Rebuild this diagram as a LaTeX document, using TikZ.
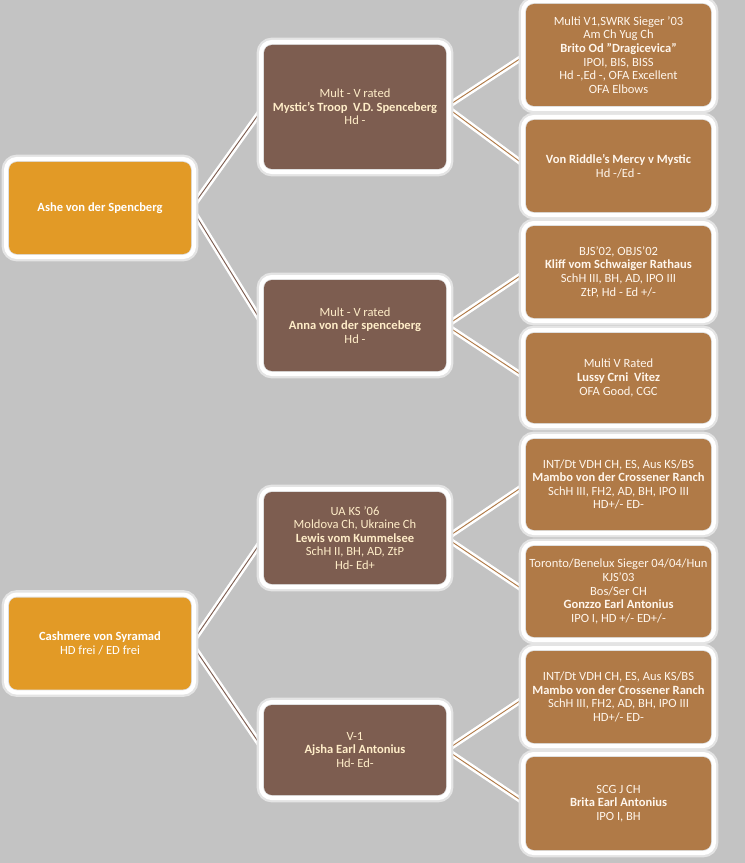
\documentclass[tikz,border=0pt]{standalone}
\usepackage{fontspec}
\setmainfont{Carlito}
\usetikzlibrary{backgrounds}
\definecolor{bgGray}{HTML}{C3C3C3}
\definecolor{rootOrange}{HTML}{E29A26}
\definecolor{sireBrown}{HTML}{7D5D50}
\definecolor{grandTan}{HTML}{B07A47}
\definecolor{creamText}{HTML}{FFEDC8}
\definecolor{paleText}{HTML}{FFF6EC}
\tikzset{
  box/.style={rounded corners=6pt, align=center, inner sep=1pt,
    font=\fontsize{9.4}{10.2}\selectfont,
    preaction={draw=bgGray!45!white, line width=11pt},
    preaction={draw=white, line width=7.5pt},
    preaction={draw=black!12, line width=1.2pt}},
  root/.style={box, fill=rootOrange, text=white,
    minimum width=136.5pt, minimum height=69pt},
  sire/.style={box, fill=sireBrown, text=creamText,
    minimum width=136.5pt},
  grand/.style={box, fill=grandTan, text=paleText,
    minimum width=138.75pt},
  branch/.style={draw=#1, line width=0.7pt,
    preaction={draw=white, line width=4.5pt}}
}
\begin{document}
\begin{tikzpicture}[x=0.75pt,y=-0.75pt]
    %frame
    \useasboundingbox (0,0) rectangle (745,863);
    %first generation
    \node[root] (ashe) at (100,208) {\textbf{Ashe von der Spencberg}};
    \node[root] (cash) at (100,643.5) {\textbf{Cashmere von Syramad}\\HD frei / ED frei};
    %second generation
    \node[sire, minimum height=93pt] (mystic) at (355,107)
      {Mult - V rated\\\textbf{Mystic's Troop~ V.D. Spenceberg}\\Hd -};
    \node[sire, minimum height=68.25pt] (anna) at (355,325.5)
      {Mult - V rated\\\textbf{Anna von der spenceberg}\\Hd -};
    \node[sire, minimum height=69pt] (lewis) at (355,538)
      {UA KS '06\\Moldova Ch, Ukraine Ch\\\textbf{Lewis vom Kummelsee}\\SchH II, BH, AD, ZtP\\Hd- Ed+};
    \node[sire, minimum height=67.5pt] (ajsha) at (355,750)
      {V-1\\\textbf{Ajsha Earl Antonius}\\Hd- Ed-};
    %third generation
    \node[grand, minimum height=76.5pt] (brito) at (618.5,55)
      {Multi V1,SWRK Sieger '03\\Am Ch Yug Ch\\\textbf{Brito Od "Dragicevica"}\\IPOI, BIS, BISS\\Hd -,Ed -, OFA Excellent\\OFA Elbows};
    \node[grand, minimum height=69pt] (riddle) at (618.5,166)
      {\textbf{Von Riddle's Mercy v Mystic}\\Hd -/Ed -};
    \node[grand, minimum height=69pt] (kliff) at (618.5,272)
      {BJS'02, OBJS'02\\\textbf{Kliff vom Schwaiger Rathaus}\\SchH III, BH, AD, IPO III\\ZtP, Hd - Ed +/-};
    \node[grand, minimum height=67.5pt] (lussy) at (618.5,378)
      {Multi V Rated\\\textbf{Lussy Crni~ Vitez}\\OFA Good, CGC};
    \node[grand, minimum height=68.25pt] (mamboa) at (618.5,484.5)
      {INT/Dt VDH CH, ES, Aus KS/BS\\\textbf{Mambo von der Crossener Ranch}\\SchH III, FH2, AD, BH, IPO III\\HD+/- ED-};
    \node[grand, minimum height=68.25pt] (gonzzo) at (618.5,591.5)
      {Toronto/Benelux Sieger 04/04/Hun\\KJS'03\\Bos/Ser CH\\\textbf{Gonzzo Earl Antonius}\\IPO I, HD +/- ED+/-};
    \node[grand, minimum height=69pt] (mambob) at (618.5,697)
      {INT/Dt VDH CH, ES, Aus KS/BS\\\textbf{Mambo von der Crossener Ranch}\\SchH III, FH2, AD, BH, IPO III\\HD+/- ED-};
    \node[grand, minimum height=69.75pt] (brita) at (618.5,803.5)
      {SCG J CH\\\textbf{Brita Earl Antonius}\\IPO I, BH};
    %connectors
    \begin{scope}[on background layer]
      \fill[bgGray] (0,0) rectangle (745,863);
      \draw[branch=sireBrown] (ashe.east) -- (mystic.west);
      \draw[branch=sireBrown] (ashe.east) -- (anna.west);
      \draw[branch=sireBrown] (cash.east) -- (lewis.west);
      \draw[branch=sireBrown] (cash.east) -- (ajsha.west);
      \draw[branch=grandTan] (mystic.east) -- (brito.west);
      \draw[branch=grandTan] (mystic.east) -- (riddle.west);
      \draw[branch=grandTan] (anna.east) -- (kliff.west);
      \draw[branch=grandTan] (anna.east) -- (lussy.west);
      \draw[branch=grandTan] (lewis.east) -- (mamboa.west);
      \draw[branch=grandTan] (lewis.east) -- (gonzzo.west);
      \draw[branch=grandTan] (ajsha.east) -- (mambob.west);
      \draw[branch=grandTan] (ajsha.east) -- (brita.west);
    \end{scope}
\end{tikzpicture}
\end{document}
